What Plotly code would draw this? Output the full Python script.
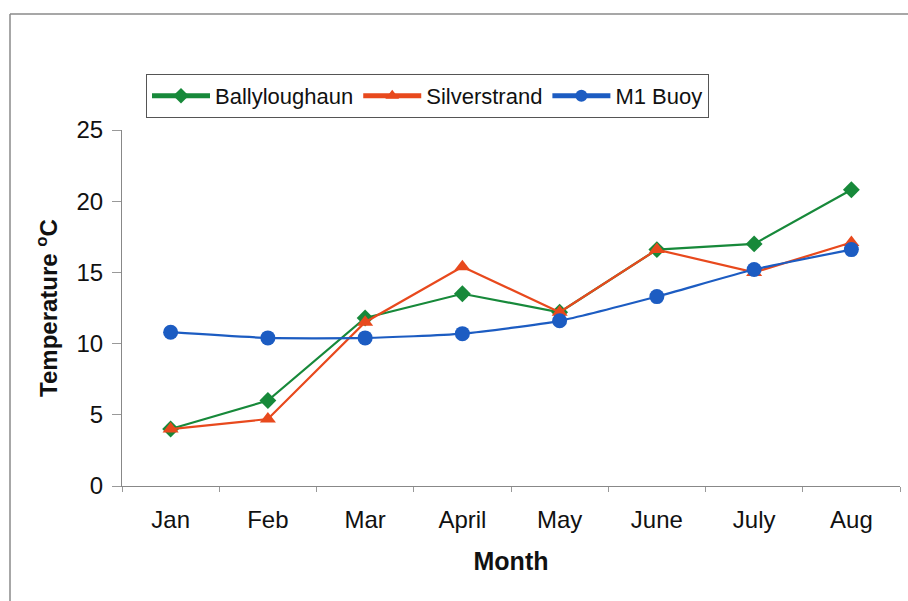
import plotly.graph_objects as go

# Monthly sea temperatures at three sites
months = ["Jan", "Feb", "Mar", "April", "May", "June", "July", "Aug"]
ballyloughaun = [4.0, 6.0, 11.8, 13.5, 12.2, 16.6, 17.0, 20.8]
silverstrand = [4.0, 4.7, 11.5, 15.4, 12.2, 16.6, 15.0, 17.1]
m1_buoy = [10.8, 10.4, 10.4, 10.7, 11.6, 13.3, 15.2, 16.6]

y_ticks = [0, 5, 10, 15, 20, 25]

FONT = "Liberation Sans, Arial, sans-serif"
GREEN = "#17893a"
RED = "#e8491d"
BLUE = "#1c5cc2"

fig = go.Figure()
fig.add_trace(go.Scatter(
    x=months, y=ballyloughaun, name="Ballyloughaun", mode="lines+markers",
    line=dict(color=GREEN, width=2.2),
    marker=dict(symbol="diamond", size=13, color=GREEN),
))
fig.add_trace(go.Scatter(
    x=months, y=silverstrand, name="Silverstrand", mode="lines+markers",
    line=dict(color=RED, width=2.2),
    marker=dict(symbol="triangle-up", size=14, color=RED),
))
fig.add_trace(go.Scatter(
    x=months, y=m1_buoy, name="M1 Buoy", mode="lines+markers",
    line=dict(color=BLUE, width=2.2, shape="spline", smoothing=0.6),
    marker=dict(symbol="circle", size=15, color=BLUE),
))

L, R, T, B = 122, 8, 130, 115
W, H = 908, 601
pw, ph = W - L - R, H - T - B


def px_x(p):
    return (p - L) / pw


def px_y(p):
    return (H - B - p) / ph


fig.update_layout(
    width=W, height=H,
    margin=dict(l=L, r=R, t=T, b=B),
    paper_bgcolor="white", plot_bgcolor="white",
    font=dict(family=FONT, color="#111111", size=24),
    showlegend=True,
    legend=dict(
        orientation="h", x=px_x(146), y=px_y(74), xanchor="left", yanchor="top",
        font=dict(size=22, color="#111111"),
        bordercolor="#555555", borderwidth=1, bgcolor="white",
        itemsizing="constant", itemwidth=58, tracegroupgap=0,
    ),
    xaxis=dict(
        type="category", range=[-0.5, len(months) - 0.5],
        showline=True, linecolor="#888888", linewidth=1.2,
        ticks="outside", tickson="boundaries", ticklen=5, tickcolor="#999999",
        showgrid=False, zeroline=False,
        tickfont=dict(size=24), ticklabelstandoff=12,
        title=dict(text="<b>Month</b>", font=dict(size=25), standoff=20),
    ),
    yaxis=dict(
        range=[0, 25], tickvals=y_ticks,
        showline=True, linecolor="#888888", linewidth=1.2,
        ticks="outside", ticklen=9, tickcolor="#999999",
        showgrid=False, zeroline=False,
        tickfont=dict(size=24), ticklabelstandoff=4,
        title=dict(text="<b>Temperature <sup>o</sup>C</b>", font=dict(size=24), standoff=11),
    ),
    shapes=[
        dict(type="line", xref="paper", yref="paper",
             x0=px_x(10), x1=px_x(908), y0=px_y(14), y1=px_y(14),
             line=dict(color="#8a8a8a", width=1.5)),
        dict(type="line", xref="paper", yref="paper",
             x0=px_x(10), x1=px_x(10), y0=px_y(14), y1=px_y(601),
             line=dict(color="#8a8a8a", width=1.5)),
    ],
)

fig.write_html("out.html")
